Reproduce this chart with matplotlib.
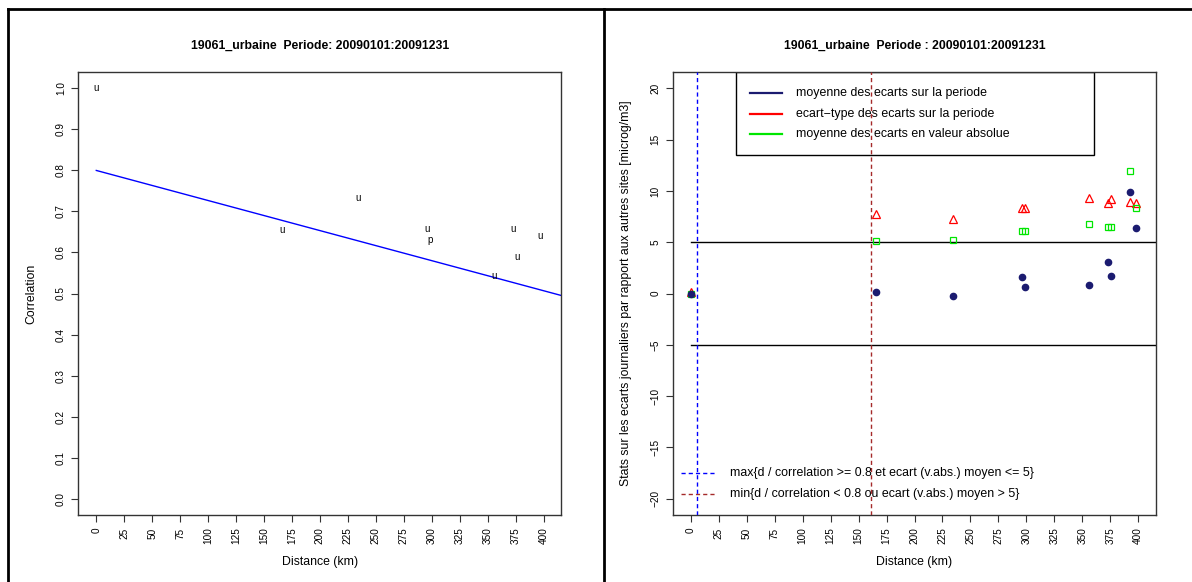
import matplotlib
matplotlib.use("Agg")
import matplotlib.pyplot as plt
from matplotlib.lines import Line2D
from matplotlib.patches import Rectangle
import numpy as np

plt.rcParams['font.family'] = ['Liberation Sans', 'DejaVu Sans']

# ---------------- data ----------------
title_left = "19061_urbaine  Periode: 20090101:20091231"
title_right = "19061_urbaine  Periode : 20090101:20091231"

# left panel: correlation vs distance (site type letters)
corr_dist = [0, 166, 234, 296, 299, 356, 373, 376, 397]
corr_vals = [1.00, 0.654, 0.732, 0.658, 0.630, 0.543, 0.658, 0.590, 0.641]
corr_type = ["u", "u", "u", "u", "p", "u", "u", "u", "u"]
fit_intercept = 0.800
fit_slope = -0.000733

# right panel: stats on daily differences
stat_dist = [0, 166, 234, 296, 299, 356, 373, 376, 393, 398]
mean_diff = [0.0, 0.1, -0.2, 1.6, 0.6, 0.8, 3.1, 1.7, 9.9, 6.4]
std_diff = [0.1, 7.8, 7.3, 8.3, 8.3, 9.3, 8.8, 9.2, 8.9, 8.8]
abs_diff = [0.0, 5.15, 5.25, 6.1, 6.1, 6.75, 6.5, 6.5, 11.9, 8.35]
thresholds = [5, -5]
d_max_ok = 5.7
d_min_bad = 161.2

x_ticks = list(range(0, 401, 25))
y_ticks_left = [round(0.1 * i, 1) for i in range(11)]
y_ticks_right = list(range(-20, 21, 5))

legend_top = ["moyenne des ecarts sur la periode",
              "ecart\u2212type des ecarts sur la periode",
              "moyenne des ecarts en valeur absolue"]
legend_bottom = ["max{d / correlation >= 0.8 et ecart (v.abs.) moyen <= 5}",
                 "min{d / correlation < 0.8 ou ecart (v.abs.) moyen > 5}"]

NAVY = "#1b1b70"
RED = "#ff0000"
GREEN = "#00e600"
BROWN = "#a52a2a"

W, H = 1192, 582
fig = plt.figure(figsize=(W / 100, H / 100), dpi=100)

def style_axes(ax):
    for s in ax.spines.values():
        s.set_color("#333333")
        s.set_linewidth(1.0)
    ax.tick_params(direction="out", length=5, width=0.8, color="#333333",
                   labelsize=7.2, pad=4)
    for lab in ax.get_xticklabels():
        lab.set_rotation(90)
    for lab in ax.get_yticklabels():
        lab.set_rotation(90)
        lab.set_va("center")

# ---------------- left panel ----------------
axL = fig.add_axes([78.4 / W, 1 - 515 / H, 483 / W, 443 / H])
axL.set_xlim(-16, 416)
axL.set_ylim(-0.04, 1.04)
for d, v, t in zip(corr_dist, corr_vals, corr_type):
    axL.text(d, v, t, ha="center", va="center", fontsize=7)
xx = np.array([0, 420])
axL.plot(xx, fit_intercept + fit_slope * xx, color="#0000ff", lw=1.0)
axL.set_xticks(x_ticks)
axL.set_xticklabels([str(v) for v in x_ticks])
axL.set_yticks(y_ticks_left)
axL.set_yticklabels([f"{v:.1f}" for v in y_ticks_left])
style_axes(axL)
axL.set_xlabel("Distance (km)", fontsize=8.8)
axL.xaxis.set_label_coords(0.5, (515 - 561.7) / 443)
axL.xaxis.label.set_va("center")
axL.set_ylabel("Correlation", fontsize=8.8)
axL.yaxis.set_label_coords((31.5 - 78.4) / 483, 0.5)
axL.yaxis.label.set_va("center")
fig.text(319.9 / W, 1 - 45.7 / H, title_left, ha="center", va="center",
         fontsize=8.8, fontweight="bold")

# ---------------- right panel ----------------
axR = fig.add_axes([672.9 / W, 1 - 515 / H, 483.2 / W, 443 / H])
axR.set_xlim(-16, 416)
axR.set_ylim(-21.6, 21.6)
for th in thresholds:
    axR.plot([0, 420], [th, th], color="black", lw=1.0)
axR.axvline(d_max_ok, color="#0000ff", lw=1.0, dashes=(3, 2.2), zorder=3)
axR.axvline(d_min_bad, color=BROWN, lw=1.0, dashes=(3, 2.2), zorder=3)
axR.plot(stat_dist, std_diff, ls="none", marker="^", ms=6, mfc="none",
         mec=RED, mew=0.9)
axR.plot(stat_dist, abs_diff, ls="none", marker="s", ms=4, mfc="none",
         mec=GREEN, mew=0.9)
axR.plot(stat_dist, mean_diff, ls="none", marker="o", ms=4.5, mfc=NAVY,
         mec=NAVY)
axR.set_xticks(x_ticks)
axR.set_xticklabels([str(v) for v in x_ticks])
axR.set_yticks(y_ticks_right)
axR.set_yticklabels([str(v).replace("-", "\u2212") for v in y_ticks_right])
style_axes(axR)
axR.set_xlabel("Distance (km)", fontsize=8.8)
axR.xaxis.set_label_coords(0.5, (515 - 561.7) / 443)
axR.xaxis.label.set_va("center")
axR.set_ylabel("Stats sur les ecarts journaliers par rapport aux autres sites [microg/m3]",
               fontsize=8.8)
axR.yaxis.set_label_coords((626.5 - 672.9) / 483.2, 0.5)
axR.yaxis.label.set_va("center")
fig.text(914.5 / W, 1 - 45.7 / H, title_right, ha="center", va="center",
         fontsize=8.8, fontweight="bold")

# top legend (boxed, transparent)
def fx(px):
    return (px - 672.9) / 483.2

def fy(py):
    return (515 - py) / 443

axR.add_patch(Rectangle((fx(735.5), fy(154.7)), fx(1094.2) - fx(735.5),
                        fy(72.3) - fy(154.7), transform=axR.transAxes,
                        facecolor="none", edgecolor="black", lw=1.0, zorder=1.5))
for lab, col, py in zip(legend_top, [NAVY, RED, GREEN], [93, 114, 134]):
    axR.add_line(Line2D([fx(749.9), fx(782.4)], [fy(py), fy(py)],
                        transform=axR.transAxes, color=col, lw=1.6, zorder=2))
    axR.text(fx(796), fy(py), lab, transform=axR.transAxes, ha="left",
             va="center", fontsize=8.9, zorder=2)

# bottom legend (no box)
for lab, col, py in zip(legend_bottom, ["#0000ff", BROWN], [472.7, 493.7]):
    axR.add_line(Line2D([fx(681.2), fx(715.2)], [fy(py), fy(py)],
                        transform=axR.transAxes, color=col, lw=1.0,
                        dashes=(3, 2.2), zorder=2))
    axR.text(fx(729.5), fy(py), lab, transform=axR.transAxes, ha="left",
             va="center", fontsize=8.9, zorder=2)

# panel frames
yt = 1 - 9 / H
fig.add_artist(Line2D([8 / W, 1], [yt, yt], color="black", lw=2.0,
                      transform=fig.transFigure))
fig.add_artist(Line2D([8 / W, 8 / W], [0, yt], color="black", lw=2.0,
                      transform=fig.transFigure))
fig.add_artist(Line2D([604 / W, 604 / W], [0, yt], color="black", lw=2.0,
                      transform=fig.transFigure))

fig.savefig("out.png", dpi=100)
